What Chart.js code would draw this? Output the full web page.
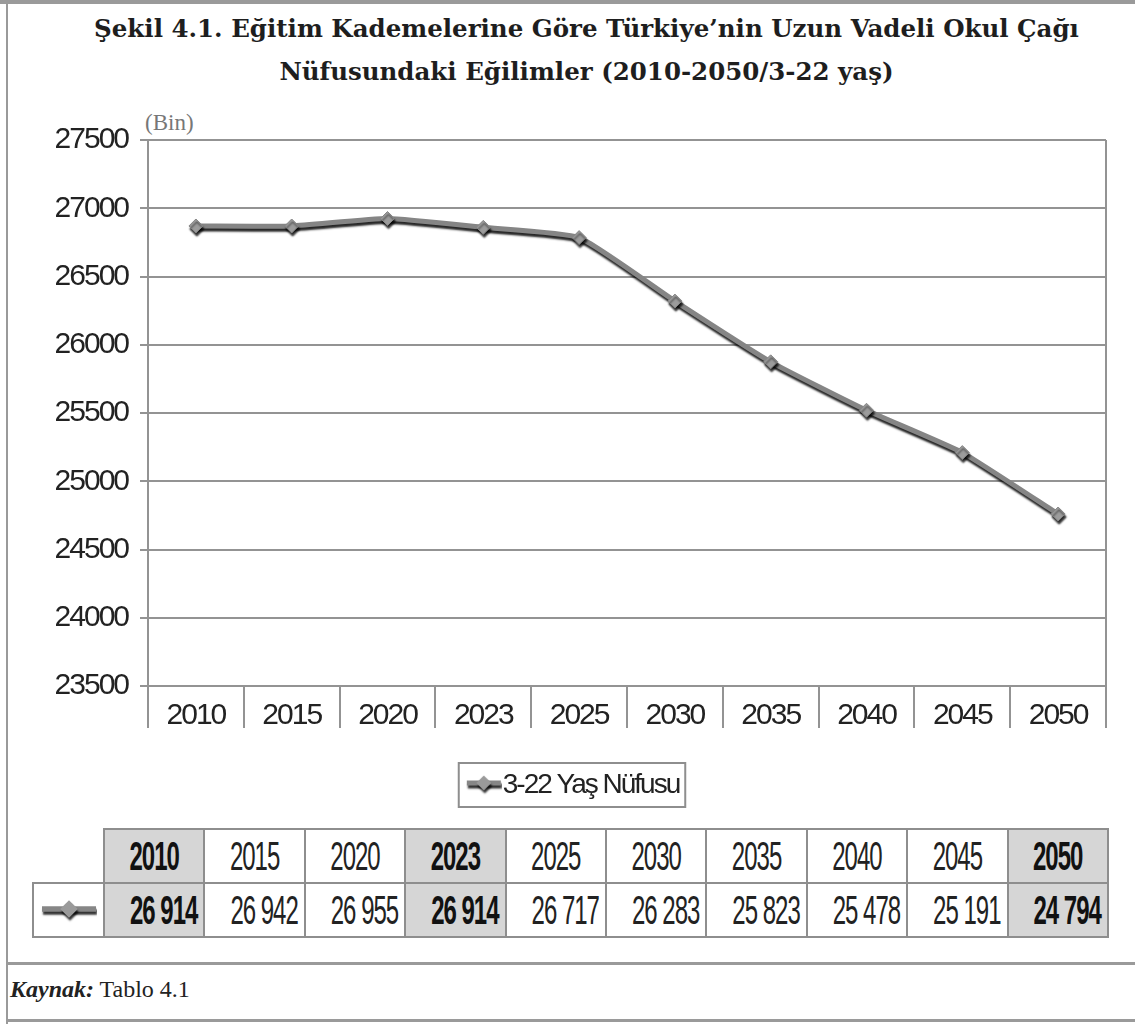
<!DOCTYPE html>
<html lang="tr">
<head>
<meta charset="utf-8">
<title>Şekil 4.1</title>
<script src="https://cdn.jsdelivr.net/npm/chart.js@4"></script>
<style>
  body { margin: 0; background: #fff; }
  #page { position: relative; width: 1135px; height: 1024px; overflow: hidden; background: #fff; }
  .rule { position: absolute; background: #9a9a9a; }
  #title { position: absolute; left: 19px; top: 7px; width: 1135px; text-align: center;
    font: bold 24.5px/43px "DejaVu Serif", "Liberation Serif", serif; color: #1e1e1e; }
  #unit { position: absolute; left: 145px; top: 110px; font: 23px "Liberation Serif", serif; color: #777; }
  #chartBox { position: absolute; left: 0; top: 110px; width: 1135px; height: 710px; }
  #dataTable { position: absolute; left: 32px; top: 828px; border-collapse: collapse; }
  #dataTable td { height: 54px; border: 2px solid #8e8e8e; padding: 0 6px; box-sizing: border-box;
    font: 24px "Liberation Sans", sans-serif; letter-spacing: -1px; color: #222; overflow: hidden; }
  #dataTable td span { display: inline-block; transform: scaleY(1.7); }
  #dataTable td.yr { text-align: center; }
  #dataTable td.num { text-align: right; }
  #dataTable td.hl { background: #d6d6d6; font-weight: bold; color: #111; }
  #dataTable td.blank { border: none; }
  #dataTable td.icon { text-align: center; padding: 0; }
  #source { position: absolute; left: 10px; top: 976px; font: 24px "Liberation Serif", serif; color: #222; }
</style>
</head>
<body>
<div id="page">
  <div class="rule" style="left:0;top:0;width:1135px;height:4px;"></div>
  <div class="rule" style="left:6px;top:0;width:2px;height:1024px;"></div>
  <div class="rule" style="left:6px;top:962px;width:1129px;height:3px;"></div>
  <div class="rule" style="left:6px;top:1019px;width:1129px;height:3px;"></div>
  <div id="title">Şekil 4.1. Eğitim Kademelerine Göre Türkiye’nin Uzun Vadeli Okul Çağı<br>Nüfusundaki Eğilimler (2010-2050/3-22 yaş)</div>
  <div id="unit">(Bin)</div>
  <div id="chartBox"><canvas id="popChart"></canvas></div>
  <table id="dataTable"></table>
  <div id="source"><b><i>Kaynak:</i></b> Tablo 4.1</div>
</div>
<script>
// Years on the x axis and in the table
var years = ['2010', '2015', '2020', '2023', '2025', '2030', '2035', '2040', '2045', '2050'];

// Line as drawn in the figure (bin kişi)
var lineValues = [26870, 26870, 26925, 26860, 26785, 26320, 25875, 25520, 25210, 24760];

// Values printed in the table under the chart
var tableValues = [26914, 26942, 26955, 26914, 26717, 26283, 25823, 25478, 25191, 24794];

// Columns shaded in the table
var shadedYears = ['2010', '2023', '2050'];

var seriesName = '3-22 Yaş Nüfusu';

// Y axis range
var yMin = 23500, yMax = 27500, yStep = 500;

var SANS = '"Liberation Sans", Arial, sans-serif';
var GRID = '#939393';
var SPACING = '-2px';
var LEGEND_SHIFT = 26;

// small line + diamond icon, used by legend and table
function drawIcon(c, w, h) {
    c.width = w; c.height = h;
    var g = c.getContext('2d');
    var cy = h / 2 - 2, r = h * 0.34;
    g.shadowColor = 'rgba(0,0,0,0.8)';
    g.shadowBlur = 2;
    g.shadowOffsetX = 1;
    g.shadowOffsetY = 3;
    g.strokeStyle = '#868686';
    g.lineWidth = Math.max(4, h * 0.22);
    g.beginPath(); g.moveTo(1, cy); g.lineTo(w - 1, cy); g.stroke();
    g.fillStyle = '#9a9a9a';
    g.beginPath();
    g.moveTo(w / 2, cy - r); g.lineTo(w / 2 + r, cy); g.lineTo(w / 2, cy + r); g.lineTo(w / 2 - r, cy);
    g.closePath(); g.fill();
    return c;
}

var legendIcon = drawIcon(document.createElement('canvas'), 36, 22);

// build the table
function fmt(v) {
    return String(v).replace(/\B(?=(\d{3})+(?!\d))/g, ' ');
}
var table = document.getElementById('dataTable');
var head = table.insertRow();
var body = table.insertRow();
var c0 = head.insertCell(); c0.className = 'blank'; c0.style.width = '71px';
var ic = body.insertCell(); ic.className = 'icon';
var iconCanvas = drawIcon(document.createElement('canvas'), 56, 26);
iconCanvas.style.verticalAlign = 'middle';
ic.appendChild(iconCanvas);
years.forEach(function (yr, i) {
    var hl = shadedYears.indexOf(yr) >= 0 ? ' hl' : '';
    var h = head.insertCell();
    h.className = 'yr' + hl;
    h.style.width = '100.4px';
    h.innerHTML = '<span>' + yr + '</span>';
    var d = body.insertCell();
    d.className = 'num' + hl;
    d.innerHTML = '<span>' + fmt(tableValues[i]) + '</span>';
});

// tighter letters on canvas text (the original uses a narrow face)
function narrowText(chart) {
    chart.ctx.letterSpacing = SPACING;
}
var narrowFont = {
    id: 'narrowFont',
    beforeUpdate: narrowText,
    beforeLayout: narrowText,
    beforeDraw: narrowText
};

// dark shadow under the grey line
var lineShadow = {
    id: 'lineShadow',
    beforeDatasetsDraw: function (chart) {
        var g = chart.ctx;
        g.save();
        g.shadowColor = 'rgba(0,0,0,0.85)';
        g.shadowBlur = 2;
        g.shadowOffsetX = 1;
        g.shadowOffsetY = 3;
    },
    afterDatasetsDraw: function (chart) {
        chart.ctx.restore();
    }
};

// move legend a bit and put a frame round it
var legendFrame = {
    id: 'legendFrame',
    afterLayout: function (chart) {
        var lg = chart.legend;
        lg.left += LEGEND_SHIFT; lg.right += LEGEND_SHIFT;
    },
    afterDraw: function (chart) {
        var lg = chart.legend;
        var hb = lg.legendHitBoxes[0];
        if (!hb) return;
        var lab = lg.options.labels;
        var g = chart.ctx;
        g.save();
        g.font = Chart.helpers.toFont(lab.font).string;
        g.letterSpacing = SPACING;
        var tw = g.measureText(seriesName).width;
        var w = 20 + lab.pointStyleWidth + lab.font.size / 2 + tw + 6;
        g.strokeStyle = '#8e8e8e';
        g.lineWidth = 2;
        g.strokeRect(hb.left - 20, hb.top - 8, w, hb.height + 16);
        g.restore();
    }
};

var data = {
    labels: years,
    datasets: [{
        label: seriesName,
        data: lineValues,
        borderColor: '#858585',
        borderWidth: 5,
        tension: 0.15,
        pointStyle: 'rectRot',
        pointRadius: 7,
        pointBackgroundColor: '#9c9c9c',
        pointBorderColor: '#858585',
        pointBorderWidth: 1,
        fill: false
    }]
};

var options = {
    responsive: true,
    maintainAspectRatio: false,
    animation: false,
    layout: {
        padding: { top: 30, right: 29, bottom: 11, left: 0 }
    },
    scales: {
        x: {
            offset: true,
            grid: {
                offset: true,
                color: function (c) { return c.type === 'scale' ? GRID : 'rgba(0,0,0,0)'; },
                tickColor: GRID,
                tickLength: 42,
                lineWidth: 2
            },
            border: { display: true, color: GRID, width: 2 },
            ticks: {
                font: { family: SANS, size: 30 },
                color: '#222',
                padding: -30,
                maxRotation: 0,
                autoSkip: false
            },
            afterFit: function (s) { s.height = 77; }
        },
        y: {
            min: yMin,
            max: yMax,
            ticks: {
                stepSize: yStep,
                font: { family: SANS, size: 30 },
                color: '#222',
                padding: 12,
                callback: function (v) { return String(v); }
            },
            grid: { color: GRID, lineWidth: 2, tickLength: 8 },
            border: { color: GRID, width: 2 },
            afterFit: function (s) { s.width = 148; }
        }
    },
    plugins: {
        legend: {
            position: 'bottom',
            labels: {
                usePointStyle: true,
                pointStyle: legendIcon,
                pointStyleWidth: 10,
                font: { family: SANS, size: 28 },
                color: '#222',
                padding: 8
            }
        },
        tooltip: { enabled: false }
    }
};

var ctx = document.getElementById('popChart').getContext('2d');
var popChart = new Chart(ctx, {
    type: 'line',
    data: data,
    options: options,
    plugins: [narrowFont, lineShadow, legendFrame]
});
</script>
</body>
</html>
